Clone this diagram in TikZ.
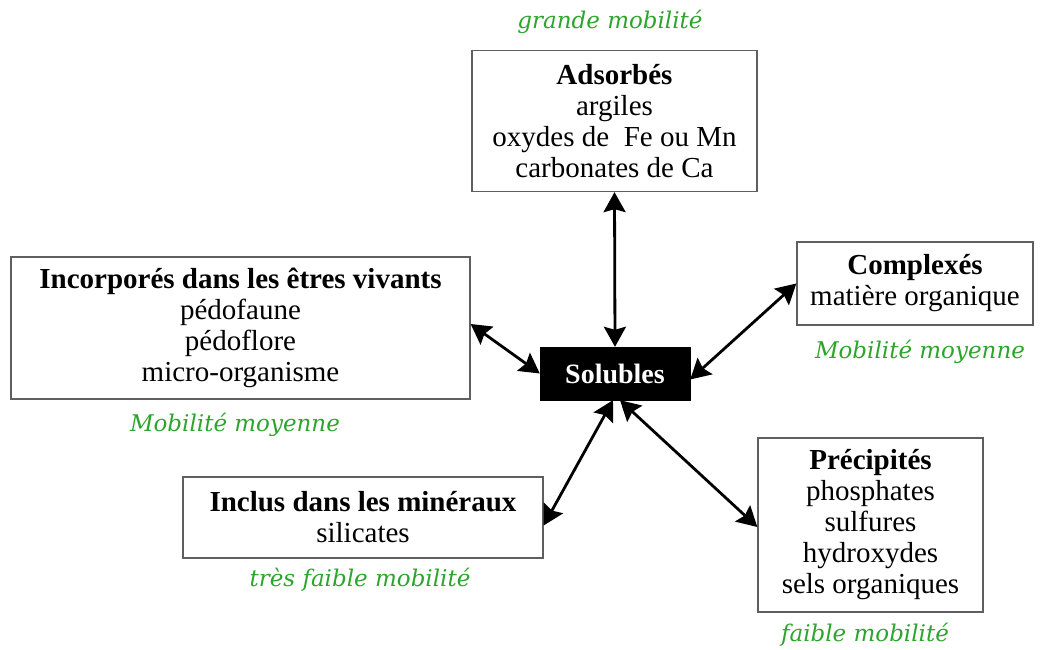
\documentclass[tikz,border=0pt]{standalone}
\usepackage{fontspec}
\setmainfont{Liberation Serif}
\newfontfamily\greenfont{DejaVu Serif}
\usetikzlibrary{arrows.meta}
\definecolor{mobgreen}{RGB}{45,165,45}
\definecolor{boxgray}{RGB}{95,95,95}
\tikzset{
  box/.style={draw=boxgray, line width=1.3pt, fill=white, rectangle, align=center, inner sep=0pt,
    font=\fontsize{29}{31}\selectfont},
  solbox/.style={draw=black, fill=black, text=white, rectangle, align=center, inner sep=0pt,
    font=\fontsize{28}{31}\selectfont\bfseries},
  mob/.style={text=mobgreen, font=\greenfont\itshape\fontsize{23}{26}\selectfont, inner sep=0pt},
  dbl/.style={{Stealth[length=20pt,width=22pt,inset=3pt]}-{Stealth[length=20pt,width=22pt,inset=3pt]}, line width=2.8pt, black}
}
\begin{document}
\begin{tikzpicture}[x=1pt,y=-1pt]
\useasboundingbox[fill=white] (0,0) rectangle (1045,650);
\node[box, minimum width=285pt, minimum height=141pt] (ads) at (614.5,121)
  {\textbf{Adsorbés}\\argiles\\oxydes de~ Fe ou Mn\\carbonates de Ca};
\node[box, minimum width=459pt, minimum height=142pt] (inc) at (240.5,328)
  {\textbf{Incorporés dans les êtres vivants}\\pédofaune\\pédoflore\\micro-organisme};
\node[box, minimum width=236pt, minimum height=83pt] (cpx) at (915,283.5)
  {\textbf{Complexés}\\matière organique};
\node[solbox, minimum width=150pt, minimum height=53pt] (sol) at (615,373.5) {Solubles};
\node[box, minimum width=360pt, minimum height=81pt] (min) at (363,517.5)
  {\textbf{Inclus dans les minéraux}\\silicates};
\node[box, minimum width=225pt, minimum height=174pt] (pre) at (870.5,525)
  {\textbf{Précipités}\\phosphates\\sulfures\\hydroxydes\\sels organiques};
\node[mob] (m1) at (610,22) {grande mobilité};
\node[mob] (m2) at (235,425) {Mobilité moyenne};
\node[mob] (m3) at (920,352) {Mobilité moyenne};
\node[mob] (m4) at (360,580) {très faible mobilité};
\node[mob] (m5) at (865,635) {faible mobilité};
\draw[dbl] (ads.south) -- (sol.north);
\draw[dbl] ([yshift=4pt]inc.east) -- (sol.west);
\draw[dbl] (cpx.west) -- ([yshift=-6pt]sol.east);
\draw[dbl] ([yshift=-8pt]min.east) -- ([xshift=-2pt]sol.south);
\draw[dbl] ([yshift=-2pt]pre.west) -- ([xshift=5pt]sol.south);
\end{tikzpicture}
\end{document}
